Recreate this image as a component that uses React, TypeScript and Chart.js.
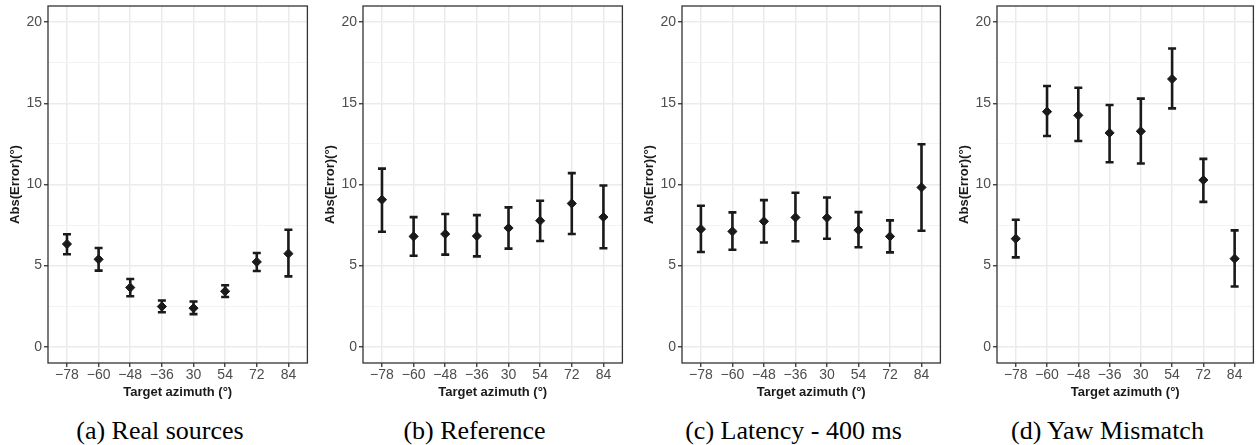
import React, { useEffect, useRef } from 'react';
import { Chart, registerables } from 'chart.js';

Chart.register(...registerables);

// ---- Data ----
const CATEGORIES = [-78, -60, -48, -36, 30, 54, 72, 84];
const TICK_LABELS = ['\u221278', '\u221260', '\u221248', '\u221236', '30', '54', '72', '84'];
const Y_TICKS = [0, 2.5, 5, 7.5, 10, 12.5, 15, 17.5, 20];
const Y_MAJOR = [0, 5, 10, 15, 20];

const MEAN_A = [6.33, 5.39, 3.65, 2.48, 2.38, 3.42, 5.23, 5.74];
const LOW_A = [5.70, 4.69, 3.11, 2.13, 2.01, 3.07, 4.67, 4.34];
const HIGH_A = [6.93, 6.09, 4.18, 2.85, 2.79, 3.79, 5.78, 7.21];

const MEAN_B = [9.06, 6.80, 6.95, 6.82, 7.32, 7.77, 8.83, 7.99];
const LOW_B = [7.09, 5.61, 5.68, 5.57, 6.05, 6.52, 6.95, 6.07];
const HIGH_B = [10.98, 7.99, 8.18, 8.11, 8.59, 9.00, 10.70, 9.94];

const MEAN_C = [7.25, 7.11, 7.73, 7.97, 7.95, 7.19, 6.80, 9.82];
const LOW_C = [5.84, 5.98, 6.43, 6.50, 6.66, 6.13, 5.82, 7.15];
const HIGH_C = [8.69, 8.28, 9.04, 9.49, 9.20, 8.30, 7.79, 12.48];

const MEAN_D = [6.66, 14.49, 14.26, 13.18, 13.28, 16.50, 10.27, 5.43];
const LOW_D = [5.51, 12.99, 12.68, 11.37, 11.29, 14.69, 8.93, 3.71];
const HIGH_D = [7.83, 16.07, 15.96, 14.90, 15.29, 18.38, 11.58, 7.17];

const CAPTIONS = ['(a) Real sources', '(b) Reference', '(c) Latency - 400 ms', '(d) Yaw Mismatch'];

const PANELS = [
  { mean: MEAN_A, low: LOW_A, high: HIGH_A, caption: CAPTIONS[0] },
  { mean: MEAN_B, low: LOW_B, high: HIGH_B, caption: CAPTIONS[1] },
  { mean: MEAN_C, low: LOW_C, high: HIGH_C, caption: CAPTIONS[2] },
  { mean: MEAN_D, low: LOW_D, high: HIGH_D, caption: CAPTIONS[3] },
];

// ---- Layout ----
const PANEL_LEFT = [0, 315, 634, 949];
const PLOT_WIDTH = [263, 263, 262, 260];
const CAPTION_CENTER = [160, 474.5, 793.5, 1107.5];
const Y_AXIS_W = 48;
const X_AXIS_H = 37;
const CANVAS_H = 400;
const PAD_RIGHT = 2;
const PAD_TOP = 6;

const INK = '#1A1A1A';
const BORDER = '#333333';
const TICK_TEXT = '#4D4D4D';
const GRID_MAJOR = '#EBEBEB';
const GRID_MINOR = '#F2F2F2';
const SANS = '"Liberation Sans", Arial, sans-serif';

const errorBarPlugin = {
  id: 'errorBars',
  beforeDatasetsDraw(chart: any) {
    const { ctx, scales } = chart;
    const xs = scales.x;
    const ys = scales.y;
    const ds = chart.data.datasets[0];
    const low: number[] = ds.low;
    const high: number[] = ds.high;
    ctx.save();
    ctx.strokeStyle = INK;
    ctx.lineWidth = 2.6;
    ctx.lineCap = 'butt';
    const cap = 4;
    for (let i = 0; i < low.length; i++) {
      const px = xs.getPixelForValue(i);
      const yl = ys.getPixelForValue(low[i]);
      const yh = ys.getPixelForValue(high[i]);
      ctx.beginPath();
      ctx.moveTo(px, yl);
      ctx.lineTo(px, yh);
      ctx.moveTo(px - cap, yl);
      ctx.lineTo(px + cap, yl);
      ctx.moveTo(px - cap, yh);
      ctx.lineTo(px + cap, yh);
      ctx.stroke();
    }
    ctx.restore();
  },
};

const borderPlugin = {
  id: 'panelBorder',
  afterDatasetsDraw(chart: any) {
    const { ctx, chartArea } = chart;
    ctx.save();
    ctx.strokeStyle = BORDER;
    ctx.lineWidth = 1.3;
    ctx.strokeRect(chartArea.left, chartArea.top, chartArea.right - chartArea.left, chartArea.bottom - chartArea.top);
    ctx.restore();
  },
};

function Panel({ index }: { index: number }) {
  const ref = useRef<HTMLCanvasElement | null>(null);
  const p = PANELS[index];
  const width = Y_AXIS_W + PLOT_WIDTH[index] + PAD_RIGHT;

  useEffect(() => {
    if (!ref.current) return;
    const isMajor = (v: number) => Y_MAJOR.includes(v);
    const chart = new Chart(ref.current, {
      type: 'scatter',
      data: {
        datasets: [
          {
            data: p.mean.map((v, i) => ({ x: i, y: v })),
            low: p.low,
            high: p.high,
            pointStyle: 'rectRot',
            pointRadius: 4.6,
            pointBackgroundColor: INK,
            pointBorderColor: INK,
            pointBorderWidth: 1,
            showLine: false,
          } as any,
        ],
      },
      options: {
        responsive: false,
        animation: false,
        events: [],
        layout: { padding: { top: PAD_TOP, right: PAD_RIGHT, left: 0, bottom: 0 } },
        plugins: { legend: { display: false }, tooltip: { enabled: false }, title: { display: false } },
        scales: {
          x: {
            type: 'linear',
            min: -0.6,
            max: 7.6,
            afterBuildTicks: (scale: any) => {
              scale.ticks = CATEGORIES.map((_, i) => ({ value: i }));
            },
            afterFit: (scale: any) => {
              scale.height = X_AXIS_H;
              scale.paddingLeft = 0;
              scale.paddingRight = 0;
            },
            border: { display: false },
            grid: {
              color: GRID_MAJOR,
              lineWidth: 1.5,
              drawTicks: true,
              tickLength: 4,
              tickColor: BORDER,
              tickWidth: 1.3,
            },
            ticks: {
              autoSkip: false,
              maxRotation: 0,
              padding: 0,
              color: TICK_TEXT,
              font: { family: SANS, size: 14 },
              callback: (v: any) => TICK_LABELS[Math.round(Number(v))] ?? '',
            },
            title: {
              display: true,
              text: 'Target azimuth (\u00B0)',
              color: INK,
              font: { family: SANS, size: 13, weight: 'bold' },
              padding: { top: 0, bottom: 0 },
            },
          },
          y: {
            type: 'linear',
            min: -1,
            max: 21,
            afterBuildTicks: (scale: any) => {
              scale.ticks = Y_TICKS.map((v) => ({ value: v }));
            },
            afterFit: (scale: any) => {
              scale.width = Y_AXIS_W;
              scale.paddingTop = 0;
              scale.paddingBottom = 0;
            },
            border: { display: false },
            grid: {
              color: (c: any) => (isMajor(c.tick?.value) ? GRID_MAJOR : GRID_MINOR),
              lineWidth: (c: any) => (isMajor(c.tick?.value) ? 1.5 : 0.9),
              drawTicks: true,
              tickLength: 4,
              tickColor: (c: any) => (isMajor(c.tick?.value) ? BORDER : 'rgba(0,0,0,0)'),
              tickWidth: 1.3,
            },
            ticks: {
              autoSkip: false,
              padding: 2,
              color: TICK_TEXT,
              font: { family: SANS, size: 14 },
              callback: (v: any) => (isMajor(Number(v)) ? String(v) : ''),
            },
            title: {
              display: true,
              text: 'Abs(Error)(\u00B0)',
              color: INK,
              font: { family: SANS, size: 13, weight: 'bold' },
              padding: { top: 8, bottom: 0 },
            },
          },
        },
      } as any,
      plugins: [errorBarPlugin, borderPlugin],
    });
    return () => chart.destroy();
  }, [index]);

  return (
    <div style={{ position: 'absolute', left: PANEL_LEFT[index], top: 0, width, height: CANVAS_H }}>
      <canvas ref={ref} width={width} height={CANVAS_H} style={{ display: 'block', width, height: CANVAS_H }} />
    </div>
  );
}

export default function App() {
  return (
    <div style={{ position: 'absolute', left: 0, top: 0, width: 1260, height: 445, background: '#FFFFFF', overflow: 'hidden' }}>
      {PANELS.map((_, i) => (
        <Panel key={i} index={i} />
      ))}
      {PANELS.map((p, i) => (
        <div
          key={'c' + i}
          style={{
            position: 'absolute',
            left: CAPTION_CENTER[i] - 150,
            width: 300,
            top: 418,
            lineHeight: '26px',
            textAlign: 'center',
            fontFamily: '"Liberation Serif", "Times New Roman", serif',
            fontSize: 26,
            color: '#000000',
            whiteSpace: 'nowrap',
          }}
        >
          {p.caption}
        </div>
      ))}
    </div>
  );
}
